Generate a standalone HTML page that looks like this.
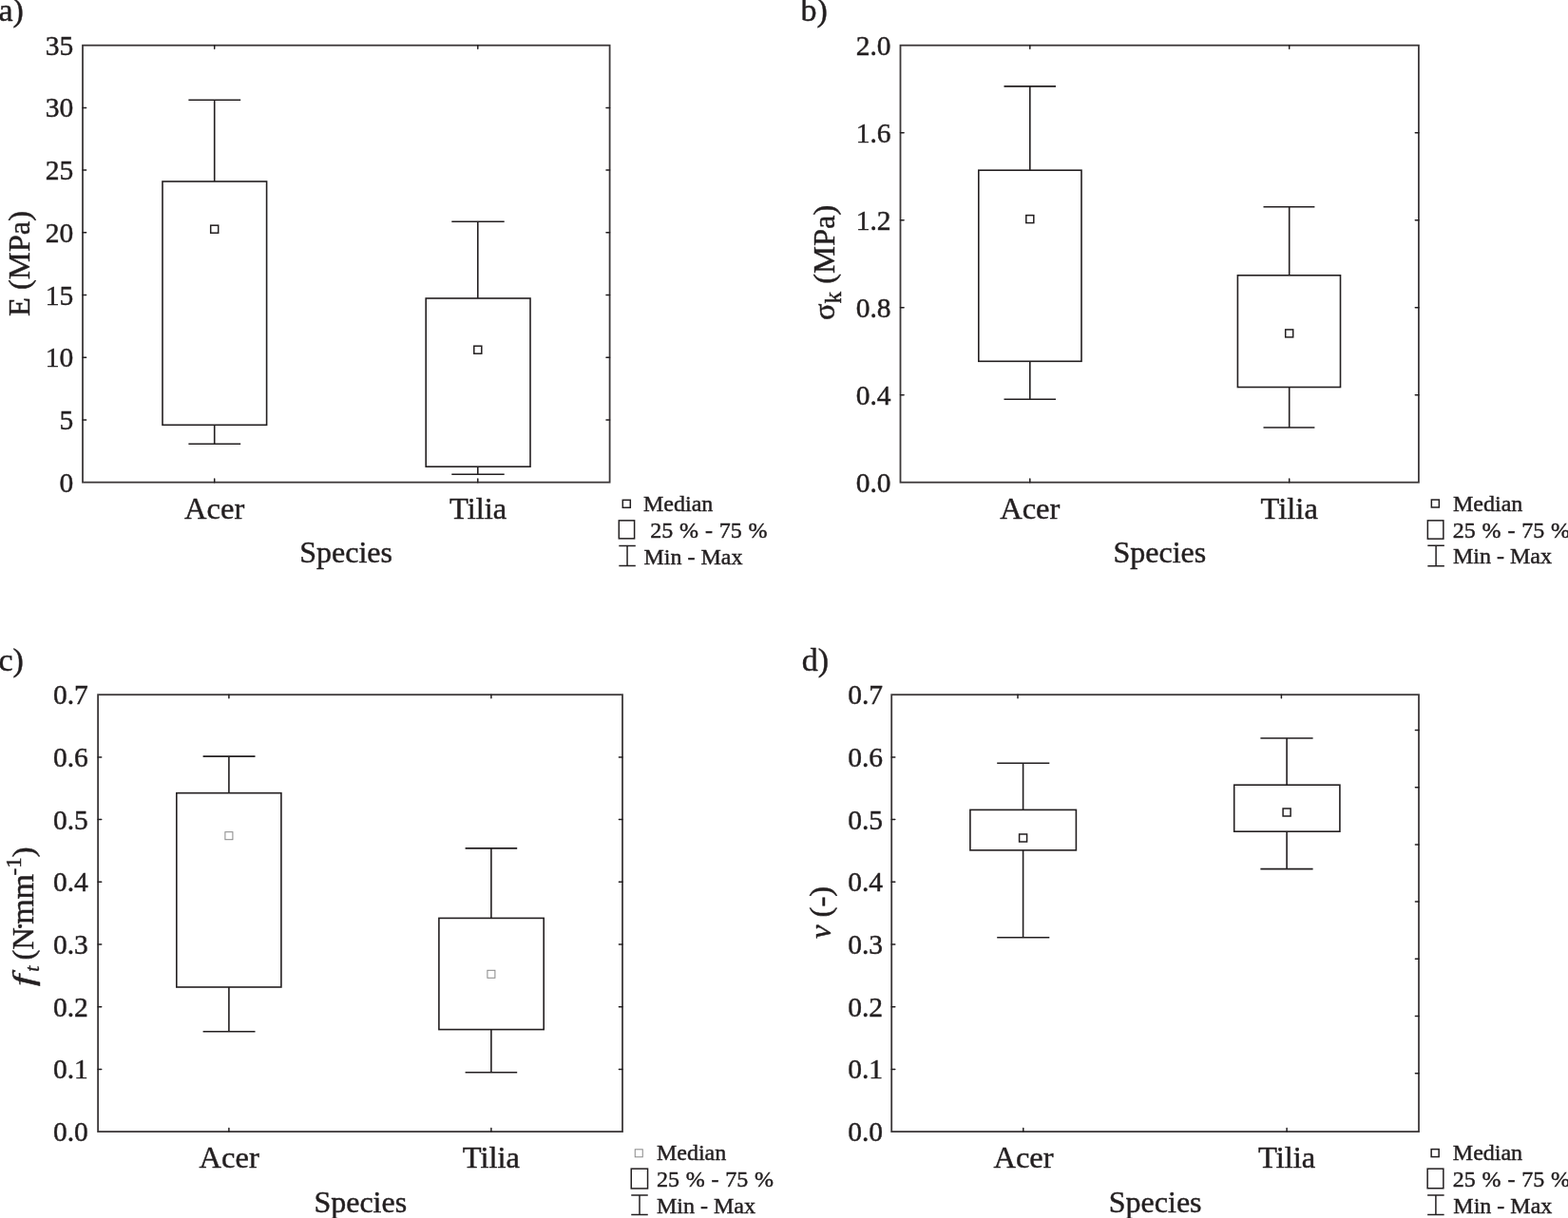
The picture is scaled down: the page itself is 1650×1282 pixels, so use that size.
<!DOCTYPE html>
<html><head><meta charset="utf-8"><title>Box plots</title>
<style>
html,body{margin:0;padding:0;background:#fff;}
body{width:1650px;height:1282px;overflow:hidden;}
svg{display:block;}
text{font-family:"Liberation Serif", "Times New Roman", serif;fill:#231f20;stroke:#231f20;stroke-width:0.45px;}
</style></head><body>
<svg width="1650" height="1282" viewBox="0 0 1650 1282">
<rect width="1650" height="1282" fill="#fff"/>
<rect x="87" y="47.7" width="554.6" height="459.95" fill="none" stroke="#3c3839" stroke-width="1.8"/>
<path d="M87 441.94h3.6 M87 376.24h3.6 M87 310.53h3.6 M87 244.82h3.6 M87 179.11h3.6 M87 113.41h3.6 M641.6 441.94h-3.6 M641.6 376.24h-3.6 M641.6 310.53h-3.6 M641.6 244.82h-3.6 M641.6 179.11h-3.6 M641.6 113.41h-3.6 M225.7 47.7v3.6 M502.8 47.7v3.6 M225.7 507.65v-3.6 M502.8 507.65v-3.6" stroke="#231f20" stroke-width="1.5" stroke-linecap="round" fill="none"/>
<text x="77.2" y="517.65" text-anchor="end" font-size="29.5">0</text>
<text x="77.2" y="451.94" text-anchor="end" font-size="29.5">5</text>
<text x="77.2" y="386.24" text-anchor="end" font-size="29.5">10</text>
<text x="77.2" y="320.53" text-anchor="end" font-size="29.5">15</text>
<text x="77.2" y="254.82" text-anchor="end" font-size="29.5">20</text>
<text x="77.2" y="189.11" text-anchor="end" font-size="29.5">25</text>
<text x="77.2" y="123.41" text-anchor="end" font-size="29.5">30</text>
<text x="77.2" y="57.7" text-anchor="end" font-size="29.5">35</text>
<path d="M225.7 105.3V191 M198.4 105.3H253.2 M225.7 447.3V467.2 M198.4 467.2H253.2" stroke="#231f20" stroke-width="1.6" fill="none"/>
<rect x="171" y="191" width="109.6" height="256.3" fill="none" stroke="#231f20" stroke-width="1.6"/>
<rect x="221.7" y="237.2" width="8" height="8" fill="none" stroke="#231f20" stroke-width="1.5"/>
<path d="M502.8 233.2V314 M475.3 233.2H530.7 M502.8 491.2V499.2 M475.3 499.2H530.7" stroke="#231f20" stroke-width="1.6" fill="none"/>
<rect x="448.2" y="314" width="109.8" height="177.2" fill="none" stroke="#231f20" stroke-width="1.6"/>
<rect x="498.8" y="364.2" width="8" height="8" fill="none" stroke="#231f20" stroke-width="1.5"/>
<text x="225.7" y="545.8" text-anchor="middle" font-size="32.5">Acer</text>
<text x="503.1" y="545.8" text-anchor="middle" font-size="32.5">Tilia</text>
<text x="315.2" y="591.8" font-size="32">Species</text>
<text x="-1.5" y="22.2" font-size="34">a)</text>
<text transform="translate(30.5,333) rotate(-90)" font-size="32.5">E (MPa)</text>
<rect x="655.3" y="526.3" width="8" height="8" fill="none" stroke="#231f20" stroke-width="1.5"/>
<rect x="651.3" y="547.85" width="16.3" height="19" fill="none" stroke="#231f20" stroke-width="1.5"/>
<path d="M651.3 574.6h17.5 M660.05 574.6V595.6 M651.3 595.6h17.5" stroke="#231f20" stroke-width="1.5" fill="none"/>
<text x="677" y="537.8" font-size="24" xml:space="preserve">Median</text>
<text x="677.5" y="565.9" font-size="24" xml:space="preserve" word-spacing="0.8"> 25 % - 75 %</text>
<text x="677.5" y="593.5" font-size="24" xml:space="preserve">Min - Max</text>
<rect x="947.5" y="47.7" width="545.4" height="460" fill="none" stroke="#3c3839" stroke-width="1.8"/>
<path d="M947.5 415.7h3.6 M947.5 323.7h3.6 M947.5 231.7h3.6 M947.5 139.7h3.6 M1492.9 415.7h-3.6 M1492.9 323.7h-3.6 M1492.9 231.7h-3.6 M1492.9 139.7h-3.6 M1083.8 47.7v3.6 M1356.7 47.7v3.6 M1083.8 507.7v-3.6 M1356.7 507.7v-3.6" stroke="#231f20" stroke-width="1.5" stroke-linecap="round" fill="none"/>
<text x="937.5" y="517.7" text-anchor="end" font-size="29.5">0.0</text>
<text x="937.5" y="425.7" text-anchor="end" font-size="29.5">0.4</text>
<text x="937.5" y="333.7" text-anchor="end" font-size="29.5">0.8</text>
<text x="937.5" y="241.7" text-anchor="end" font-size="29.5">1.2</text>
<text x="937.5" y="149.7" text-anchor="end" font-size="29.5">1.6</text>
<text x="937.5" y="57.7" text-anchor="end" font-size="29.5">2.0</text>
<path d="M1083.8 90.9V179.2 M1056.5 90.9H1111 M1083.8 380.3V420.3 M1056.5 420.3H1111" stroke="#231f20" stroke-width="1.6" fill="none"/>
<rect x="1029.8" y="179.2" width="108.2" height="201.1" fill="none" stroke="#231f20" stroke-width="1.6"/>
<rect x="1079.8" y="226.6" width="8" height="8" fill="none" stroke="#231f20" stroke-width="1.5"/>
<path d="M1356.7 217.7V289.8 M1329.5 217.7H1383.4 M1356.7 407.5V450 M1329.5 450H1383.4" stroke="#231f20" stroke-width="1.6" fill="none"/>
<rect x="1302.4" y="289.8" width="108.1" height="117.7" fill="none" stroke="#231f20" stroke-width="1.6"/>
<rect x="1352.7" y="346.9" width="8" height="8" fill="none" stroke="#231f20" stroke-width="1.5"/>
<text x="1083.8" y="545.8" text-anchor="middle" font-size="32.5">Acer</text>
<text x="1356.7" y="545.8" text-anchor="middle" font-size="32.5">Tilia</text>
<text x="1171.5" y="592" font-size="32">Species</text>
<text x="842.5" y="21.8" font-size="34">b)</text>
<text transform="translate(878,337) rotate(-90)" font-size="32.5">σ<tspan font-size="25" dy="7">k</tspan><tspan dy="-7"> (MPa)</tspan></text>
<rect x="1506.35" y="526" width="8" height="8" fill="none" stroke="#231f20" stroke-width="1.5"/>
<rect x="1502.35" y="547.85" width="16.5" height="19.3" fill="none" stroke="#231f20" stroke-width="1.5"/>
<path d="M1502.35 574.2h17.5 M1511.1 574.2V595.8 M1502.35 595.8h17.5" stroke="#231f20" stroke-width="1.5" fill="none"/>
<text x="1529" y="538.1" font-size="24" xml:space="preserve">Median</text>
<text x="1528.8" y="565.8" font-size="24" xml:space="preserve" word-spacing="0.8">25 % - 75 %</text>
<text x="1529" y="593.4" font-size="24" xml:space="preserve">Min - Max</text>
<rect x="103.1" y="731.2" width="551.9" height="459.9" fill="none" stroke="#3c3839" stroke-width="1.8"/>
<path d="M103.1 1125.4h3.6 M103.1 1059.7h3.6 M103.1 994h3.6 M103.1 928.3h3.6 M103.1 862.6h3.6 M103.1 796.9h3.6 M655 1125.4h-3.6 M655 1059.7h-3.6 M655 994h-3.6 M655 928.3h-3.6 M655 862.6h-3.6 M655 796.9h-3.6 M240.9 731.2v3.6 M516.9 731.2v3.6 M240.9 1191.1v-3.6 M516.9 1191.1v-3.6" stroke="#231f20" stroke-width="1.5" stroke-linecap="round" fill="none"/>
<text x="92.8" y="1201.1" text-anchor="end" font-size="29.5">0.0</text>
<text x="92.8" y="1135.4" text-anchor="end" font-size="29.5">0.1</text>
<text x="92.8" y="1069.7" text-anchor="end" font-size="29.5">0.2</text>
<text x="92.8" y="1004" text-anchor="end" font-size="29.5">0.3</text>
<text x="92.8" y="938.3" text-anchor="end" font-size="29.5">0.4</text>
<text x="92.8" y="872.6" text-anchor="end" font-size="29.5">0.5</text>
<text x="92.8" y="806.9" text-anchor="end" font-size="29.5">0.6</text>
<text x="92.8" y="741.2" text-anchor="end" font-size="29.5">0.7</text>
<path d="M240.9 796.1V834.7 M213.6 796.1H268.5 M240.9 1039V1085.7 M213.6 1085.7H268.5" stroke="#231f20" stroke-width="1.6" fill="none"/>
<rect x="185.8" y="834.7" width="110.1" height="204.3" fill="none" stroke="#231f20" stroke-width="1.6"/>
<rect x="236.9" y="875.7" width="8" height="8" fill="none" stroke="#888" stroke-width="1.0"/>
<path d="M516.9 892.9V966.4 M489.6 892.9H544.2 M516.9 1083.6V1128.7 M489.6 1128.7H544.2" stroke="#231f20" stroke-width="1.6" fill="none"/>
<rect x="461.9" y="966.4" width="110.3" height="117.2" fill="none" stroke="#231f20" stroke-width="1.6"/>
<rect x="512.9" y="1021.3" width="8" height="8" fill="none" stroke="#888" stroke-width="1.0"/>
<text x="241.2" y="1228.7" text-anchor="middle" font-size="32.5">Acer</text>
<text x="516.9" y="1228.7" text-anchor="middle" font-size="32.5">Tilia</text>
<text x="330.4" y="1275.6" font-size="32">Species</text>
<text x="-1.5" y="705.5" font-size="34">c)</text>
<text transform="translate(35.2,1038) rotate(-90) scale(1.35,1)" font-size="32.5" font-style="italic">f</text><text transform="translate(35.2,1037) rotate(-90)" font-size="32.5"><tspan font-style="italic" font-size="22" dx="14.3" dy="6">t</tspan><tspan dx="-2" dy="-6"> (N</tspan><tspan dx="-4" dy="-3.7">·</tspan><tspan dx="-3.5" dy="3.7" font-size="34">mm</tspan><tspan font-size="23" dx="-1.5" dy="-13.2">-1</tspan><tspan dy="13.2">)</tspan></text>
<rect x="668.25" y="1209.8" width="8" height="8" fill="none" stroke="#888" stroke-width="1.0"/>
<rect x="664.25" y="1230.15" width="17.3" height="20.8" fill="none" stroke="#231f20" stroke-width="1.5"/>
<path d="M664.25 1258h17.5 M673 1258V1278.5 M664.25 1278.5h17.5" stroke="#231f20" stroke-width="1.5" fill="none"/>
<text x="690.9" y="1221.2" font-size="24" xml:space="preserve">Median</text>
<text x="690.9" y="1248.8" font-size="24" xml:space="preserve" word-spacing="0.8">25 % - 75 %</text>
<text x="691" y="1276.5" font-size="24" xml:space="preserve">Min - Max</text>
<rect x="938.2" y="731.2" width="554.8" height="459.9" fill="none" stroke="#3c3839" stroke-width="1.8"/>
<path d="M938.2 1125.4h3.6 M938.2 1059.7h3.6 M938.2 994h3.6 M938.2 928.3h3.6 M938.2 862.6h3.6 M938.2 796.9h3.6 M1493 768.5h-3.6 M1493 828.7h-3.6 M1493 888.9h-3.6 M1493 949.1h-3.6 M1493 1009.3h-3.6 M1493 1069.5h-3.6 M1493 1129.7h-3.6 M1071 731.2v3.6 M1348.4 731.2v3.6 M1076.8 1191.1v-3.6 M1354.1 1191.1v-3.6" stroke="#231f20" stroke-width="1.5" stroke-linecap="round" fill="none"/>
<text x="929" y="1201.1" text-anchor="end" font-size="29.5">0.0</text>
<text x="929" y="1135.4" text-anchor="end" font-size="29.5">0.1</text>
<text x="929" y="1069.7" text-anchor="end" font-size="29.5">0.2</text>
<text x="929" y="1004" text-anchor="end" font-size="29.5">0.3</text>
<text x="929" y="938.3" text-anchor="end" font-size="29.5">0.4</text>
<text x="929" y="872.6" text-anchor="end" font-size="29.5">0.5</text>
<text x="929" y="806.9" text-anchor="end" font-size="29.5">0.6</text>
<text x="929" y="741.2" text-anchor="end" font-size="29.5">0.7</text>
<path d="M1076.6 803.3V852.4 M1049.2 803.3H1104.3 M1076.6 894.9V986.8 M1049.2 986.8H1104.3" stroke="#231f20" stroke-width="1.6" fill="none"/>
<rect x="1020.9" y="852.4" width="111.5" height="42.5" fill="none" stroke="#231f20" stroke-width="1.6"/>
<rect x="1072.6" y="878" width="8" height="8" fill="none" stroke="#231f20" stroke-width="1.5"/>
<path d="M1354.1 777V826.2 M1326.4 777H1381.6 M1354.1 875.2V914.6 M1326.4 914.6H1381.6" stroke="#231f20" stroke-width="1.6" fill="none"/>
<rect x="1298.7" y="826.2" width="111.2" height="49" fill="none" stroke="#231f20" stroke-width="1.6"/>
<rect x="1350.1" y="851" width="8" height="8" fill="none" stroke="#231f20" stroke-width="1.5"/>
<text x="1077" y="1228.7" text-anchor="middle" font-size="32.5">Acer</text>
<text x="1354.1" y="1228.7" text-anchor="middle" font-size="32.5">Tilia</text>
<text x="1166.8" y="1275.6" font-size="32">Species</text>
<text x="843.8" y="705.5" font-size="34">d)</text>
<text transform="translate(874.3,988) rotate(-90)" font-size="32.5"><tspan font-style="italic">v</tspan> (-)</text>
<rect x="1506.15" y="1209.6" width="8" height="8" fill="none" stroke="#231f20" stroke-width="1.5"/>
<rect x="1502.15" y="1230.15" width="16.7" height="20.6" fill="none" stroke="#231f20" stroke-width="1.5"/>
<path d="M1502.15 1258h17.5 M1510.9 1258V1278.5 M1502.15 1278.5h17.5" stroke="#231f20" stroke-width="1.5" fill="none"/>
<text x="1528.8" y="1221.2" font-size="24" xml:space="preserve">Median</text>
<text x="1528.8" y="1248.8" font-size="24" xml:space="preserve" word-spacing="0.8">25 % - 75 %</text>
<text x="1529.3" y="1276.5" font-size="24" xml:space="preserve">Min - Max</text>
</svg>
</body></html>
